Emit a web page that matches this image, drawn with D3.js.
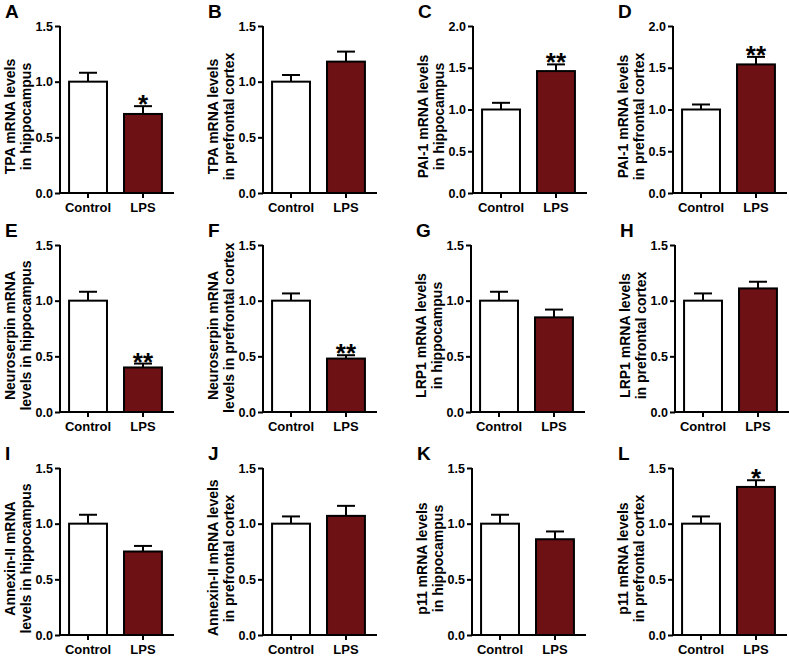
<!DOCTYPE html>
<html>
<head>
<meta charset="utf-8">
<script src="https://cdn.jsdelivr.net/npm/d3@7"></script>
<style>
  html, body { margin: 0; padding: 0; background: #ffffff; }
  svg { display: block; }
  svg text { font-family: "Liberation Sans", Arial, sans-serif; }
</style>
</head>
<body>
<svg id="chart" width="789" height="656"></svg>
<script>
// ---------------- DATA ----------------
const panelLetters = ["A","B","C","D","E","F","G","H","I","J","K","L"];
const categories = ["Control", "LPS"];
const titleLine1 = [
  "TPA mRNA levels", "TPA mRNA levels", "PAI-1 mRNA levels", "PAI-1 mRNA levels",
  "Neuroserpin mRNA", "Neuroserpin mRNA", "LRP1 mRNA levels", "LRP1 mRNA levels",
  "Annexin-II mRNA", "Annexin-II mRNA levels", "p11 mRNA levels", "p11 mRNA levels"
];
const titleLine2 = [
  "in hippocampus", "in prefrontal cortex", "in hippocampus", "in prefrontal cortex",
  "levels in hippocampus", "levels in prefrontal cortex", "in hippocampus", "in prefrontal cortex",
  "levels in hippocampus", "in prefrontal cortex", "in hippocampus", "in prefrontal cortex"
];
const controlMeans = [1.00, 1.00, 1.00, 1.00, 1.00, 1.00, 1.00, 1.00, 1.00, 1.00, 1.00, 1.00];
const controlSEM   = [0.08, 0.06, 0.08, 0.06, 0.08, 0.065, 0.08, 0.065, 0.08, 0.065, 0.08, 0.065];
const lpsMeans     = [0.71, 1.18, 1.46, 1.54, 0.40, 0.48, 0.85, 1.11, 0.75, 1.07, 0.86, 1.33];
const lpsSEM       = [0.07, 0.09, 0.08, 0.09, 0.035, 0.03, 0.07, 0.06, 0.05, 0.09, 0.07, 0.06];
const significance = ["*", "", "**", "**", "**", "**", "", "", "", "", "", "*"];
const yMaxValues   = [1.5, 1.5, 2.0, 2.0, 1.5, 1.5, 1.5, 1.5, 1.5, 1.5, 1.5, 1.5];
const yTicks15 = [0, 0.5, 1.0, 1.5];
const yTicks20 = [0, 0.5, 1.0, 1.5, 2.0];

// ---------------- LAYOUT ----------------
const axisX = [60, 263, 473, 673, 60, 263, 471, 675, 60, 263, 472, 673];
const rowTop = [26, 245, 468];
const plotH = 167;
const plotW = 111;
const barFill = ["#ffffff", "#6e1115"];
const FONT = "'Liberation Sans', Arial, sans-serif";

const svg = d3.select("#chart");

panelLetters.forEach((letter, i) => {
  const row = Math.floor(i / 4);
  const x0 = axisX[i];
  const y0 = rowTop[row];
  const g = svg.append("g").attr("transform", `translate(${x0},${y0})`);

  const x = d3.scaleBand().domain(categories).range([0, plotW])
    .paddingInner(0.31).paddingOuter(0.165);
  const y = d3.scaleLinear().domain([0, yMaxValues[i]]).range([plotH, 0]);

  const means = [controlMeans[i], lpsMeans[i]];
  const sems = [controlSEM[i], lpsSEM[i]];
  const rows = categories.map((c, k) => ({ cat: c, mean: means[k], sem: sems[k], k }));

  // error bars
  const capHalf = 9;
  rows.forEach(d => {
    const cx = x(d.cat) + x.bandwidth() / 2;
    g.append("line")
      .attr("x1", cx).attr("x2", cx)
      .attr("y1", y(d.mean)).attr("y2", y(d.mean + d.sem))
      .attr("stroke", "#000").attr("stroke-width", 2);
    g.append("line")
      .attr("x1", cx - capHalf).attr("x2", cx + capHalf)
      .attr("y1", y(d.mean + d.sem)).attr("y2", y(d.mean + d.sem))
      .attr("stroke", "#000").attr("stroke-width", 2);
  });

  // bars
  g.selectAll("rect.bar").data(rows).enter().append("rect")
    .attr("class", "bar")
    .attr("x", d => x(d.cat))
    .attr("width", x.bandwidth())
    .attr("y", d => y(d.mean))
    .attr("height", d => y(0) - y(d.mean))
    .attr("fill", d => barFill[d.k])
    .attr("stroke", "#000")
    .attr("stroke-width", 2);

  // significance stars
  if (significance[i]) {
    const cx = x("LPS") + x.bandwidth() / 2;
    g.append("text")
      .attr("x", cx)
      .attr("y", y(lpsMeans[i] + lpsSEM[i]) + 7)
      .attr("text-anchor", "middle")
      .attr("font-size", 26)
      .attr("font-weight", "bold")
      .attr("font-family", FONT)
      .text(significance[i]);
  }

  // y axis
  const yAxis = d3.axisLeft(y)
    .tickValues(yMaxValues[i] === 2.0 ? yTicks20 : yTicks15)
    .tickFormat(d3.format(".1f"))
    .tickSize(5).tickSizeOuter(0).tickPadding(2);
  const ya = g.append("g").call(yAxis);
  ya.select(".domain").attr("stroke-width", 2).attr("d", `M0,${plotH + 1}V0`);
  ya.selectAll(".tick line").attr("stroke-width", 2);
  ya.selectAll(".tick text").attr("font-size", 12.5).attr("font-weight", "bold")
    .attr("fill", "#000").attr("font-family", FONT);

  // x axis
  const xAxis = d3.axisBottom(x).tickSize(5).tickSizeOuter(0).tickPadding(5);
  const xa = g.append("g").attr("transform", `translate(0,${plotH})`).call(xAxis);
  xa.select(".domain").attr("stroke-width", 2).attr("d", `M-1,0H${plotW + 3}`);
  xa.selectAll(".tick line").attr("stroke-width", 2);
  xa.selectAll(".tick text").attr("font-size", 13).attr("font-weight", "bold")
    .attr("fill", "#000").attr("font-family", FONT);

  // y axis title (two lines, rotated)
  const lines = [titleLine1[i], titleLine2[i]];
  const lineX = [-45, -29];
  lines.forEach((t, li) => {
    const tx = g.append("text")
      .attr("font-size", 14)
      .attr("font-weight", "bold")
      .attr("font-family", FONT)
      .attr("text-anchor", "middle")
      .text(t);
    const len = tx.node().getComputedTextLength();
    let cy = plotH / 2 + 7;
    if (cy + len / 2 > plotH + 1) cy = plotH + 1 - len / 2;
    tx.attr("transform", `translate(${lineX[li]},${cy}) rotate(-90)`);
  });

  // panel letter
  g.append("text")
    .attr("x", -55)
    .attr("y", -8)
    .attr("font-size", 19)
    .attr("font-weight", "bold")
    .attr("font-family", FONT)
    .text(letter);
});
</script>
</body>
</html>
